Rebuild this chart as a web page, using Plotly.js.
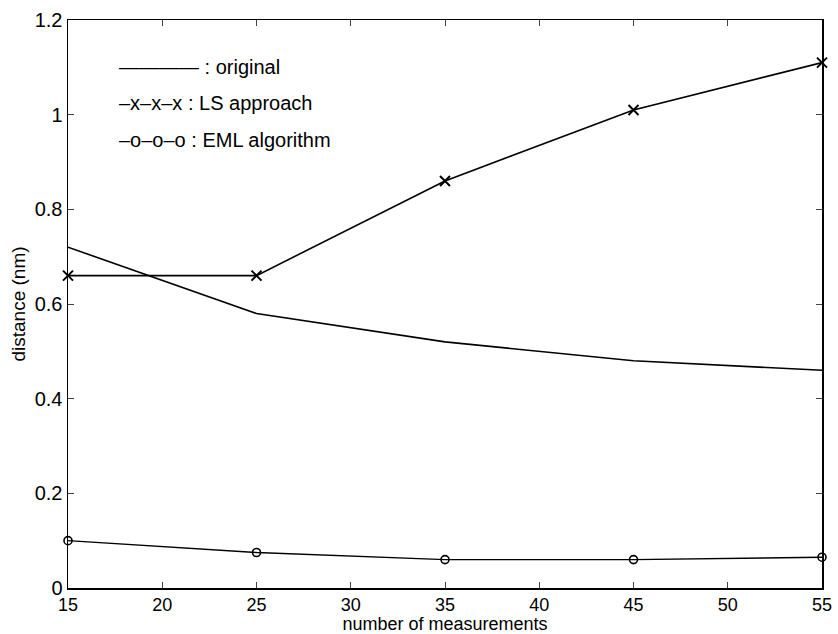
<!DOCTYPE html>
<html>
<head>
<meta charset="utf-8">
<script src="https://cdn.plot.ly/plotly-3.0.1.min.js"></script>
<style>html,body{margin:0;padding:0;background:#fff;}#chart{width:838px;height:634px;}</style>
</head>
<body>
<div id="chart"></div>
<script>
var measurements = [15, 25, 35, 45, 55];
var originalVals = [0.72, 0.58, 0.52, 0.48, 0.46];
var lsVals = [0.66, 0.66, 0.86, 1.01, 1.11];
var emlVals = [0.10, 0.075, 0.06, 0.06, 0.065];
var legendTexts = ["———— : original", "–x–x–x : LS approach", "–o–o–o : EML algorithm"];
var legendY = [1.10, 1.025, 0.947];

var fam = "Liberation Sans, Arial, sans-serif";
var traces = [
  {x: measurements, y: originalVals, mode: "lines", line: {color: "#000", width: 1.6}, showlegend: false, cliponaxis: false},
  {x: measurements, y: lsVals, mode: "lines+markers", line: {color: "#000", width: 1.6}, cliponaxis: false,
   marker: {symbol: "x-thin-open", size: 10, line: {color: "#000", width: 2}}, showlegend: false},
  {x: measurements, y: emlVals, mode: "lines+markers", line: {color: "#000", width: 1.4}, cliponaxis: false,
   marker: {symbol: "circle-open", size: 8, color: "#000", line: {color: "#000", width: 1.6}}, showlegend: false}
];
var annotations = legendTexts.map(function (t, i) {
  return {x: 17.6, y: legendY[i], xref: "x", yref: "y", text: t, showarrow: false,
          xanchor: "left", yanchor: "middle", font: {family: fam, size: 20, color: "#000"}};
});
var layout = {
  width: 838, height: 634,
  margin: {l: 68, r: 16, t: 20, b: 46},
  paper_bgcolor: "#fff", plot_bgcolor: "#fff",
  showlegend: false,
  font: {family: fam, color: "#000"},
  xaxis: {range: [15, 55], dtick: 5, tick0: 15, ticks: "inside", ticklen: 6, mirror: "ticks",
          showline: true, linecolor: "#000", linewidth: 1.5, showgrid: false, zeroline: false,
          tickfont: {size: 18, family: fam, color: "#000"},
          title: {text: "number of measurements", font: {size: 18, family: fam, color: "#000"}, standoff: 1}},
  yaxis: {range: [0, 1.2], dtick: 0.2, tick0: 0, ticks: "inside", ticklen: 6, mirror: "ticks",
          showline: true, linecolor: "#000", linewidth: 1.5, showgrid: false, zeroline: false,
          tickfont: {size: 20, family: fam, color: "#000"},
          title: {text: "distance (nm)", font: {size: 19, family: fam, color: "#000"}, standoff: 4}},
  annotations: annotations
};
Plotly.newPlot("chart", traces, layout, {displayModeBar: false, staticPlot: true});
</script>
</body>
</html>
